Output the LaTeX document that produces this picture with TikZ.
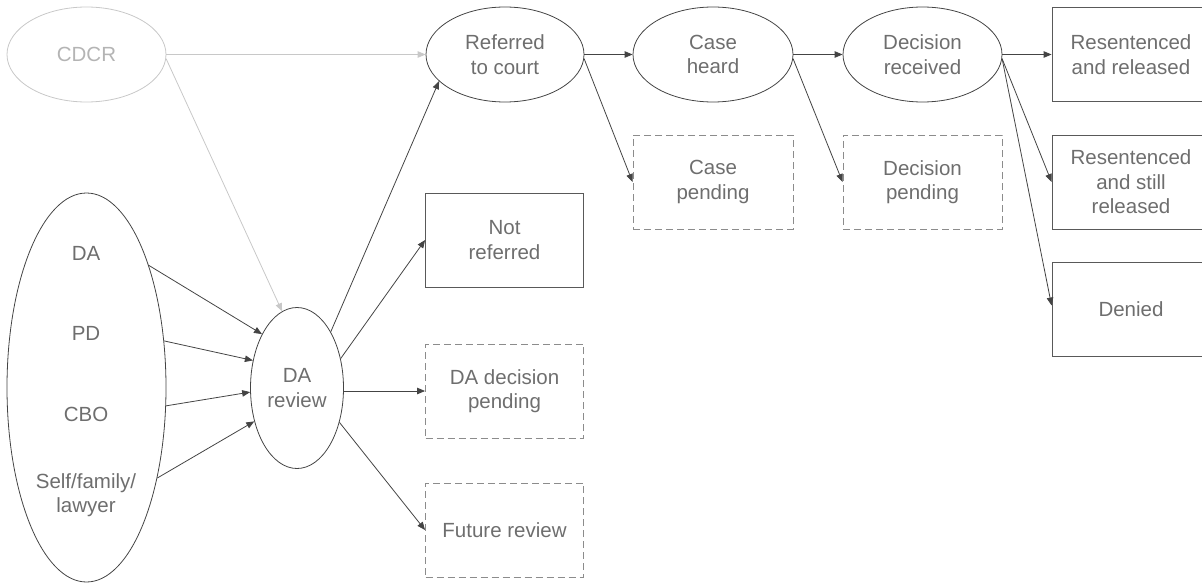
\documentclass[tikz,border=0pt]{standalone}
\usepackage{fontspec}
\setmainfont{Liberation Sans}
\usetikzlibrary{arrows.meta,shapes.geometric,calc}
\definecolor{txt}{HTML}{6E6E6E}
\definecolor{lg}{HTML}{C8C8C8}
\definecolor{lgtxt}{HTML}{B4B4B4}
\definecolor{dk}{HTML}{444444}
\begin{document}
\begin{tikzpicture}[x=1pt,y=-1pt,
  every node/.style={font=\fontsize{20.5}{24.5}\selectfont, text=txt, align=center, inner sep=0pt},
  ell/.style={ellipse, draw=dk, line width=0.8pt},
  solidbox/.style={rectangle, draw=black!65, line width=0.8pt, minimum width=158pt, minimum height=94pt},
  dashbox/.style={rectangle, draw=black!45, line width=0.9pt, dash pattern=on 7pt off 4pt, minimum width=158pt, minimum height=94pt},
  arr/.style={draw=dk, line width=0.8pt, -{Triangle[length=8pt,width=6.5pt]}},
  larr/.style={draw=lg, line width=0.8pt, -{Triangle[length=8pt,width=6.5pt]}}]
\useasboundingbox (0,0) rectangle (1202,583);

% left side
\node[ell, draw=lg, text=lgtxt, minimum width=159pt, minimum height=95pt] (cdcr) at (86.5,54.5) {CDCR};
\node[ell, minimum width=159pt, minimum height=389pt] (src) at (86.5,387.5) {};
\node (tda) at (86,253) {DA};
\node (tpd) at (86,333) {PD};
\node (tcbo) at (86,414) {CBO};
\node (tself) at (86,495) {Self/family/\\lawyer};
\node[ell, minimum width=93pt, minimum height=161pt] (dar) at (297,388) {DA\\review};

% top row
\node[ell, minimum width=158pt, minimum height=95pt] (ref) at (505,54.5) {Referred\\to court};
\node[ell, minimum width=160pt, minimum height=95pt] (heard) at (713,54.5) {Case\\heard};
\node[ell, minimum width=159pt, minimum height=95pt] (drec) at (922.5,54.5) {Decision\\received};
\node[solidbox] (rr) at (1131,54.5) {Resentenced\\and released};

% second row
\node[dashbox, minimum width=160pt] (cpend) at (713,182) {Case\\pending};
\node[dashbox, minimum width=159pt] (dpend) at (922.5,182) {Decision\\pending};
\node[solidbox] (rs) at (1131,182) {Resentenced\\and still\\released};
\node[solidbox] (den) at (1131,309.5) {Denied};

% DA outcomes
\node[solidbox] (nref) at (504.5,240) {Not\\referred};
\node[dashbox] (dapend) at (504.5,391) {DA decision\\pending};
\node[dashbox] (fut) at (504.5,530) {Future review};

% connectors
\draw[larr] (cdcr.east) -- (ref.west);
\draw[larr] (cdcr.-3) -- (dar.101.6);

\draw[arr] (src.63.6) -- (dar.123);
\draw[arr] (src.31.3) -- (dar.148);
\draw[arr] (src.-13) -- (dar.185);
\draw[arr] (src.-52) -- (dar.218);

\draw[arr] (dar.59) -- (ref.202);
\draw[arr] (dar.34) -- (nref.west);
\draw[arr] (dar.east |- dapend.west) -- (dapend.west);
\draw[arr] (dar.-39) -- (fut.west);

\draw[arr] (ref.east) -- (heard.west);
\draw[arr] (ref.-3) -- (cpend.west);
\draw[arr] (heard.east) -- (drec.west);
\draw[arr] (heard.-3) -- (dpend.west);
\draw[arr] (drec.east) -- (rr.west);
\draw[arr] (drec.-3) -- (rs.west);
\draw[arr] (drec.-3) -- ($(den.west)+(0,-4)$);
\end{tikzpicture}
\end{document}
